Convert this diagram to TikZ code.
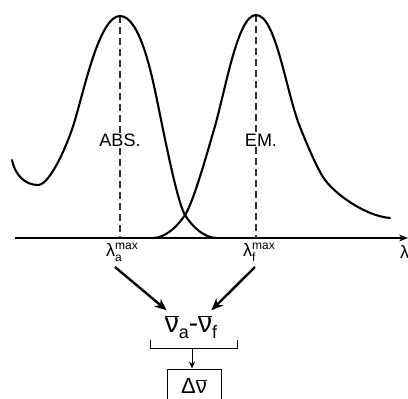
\documentclass[tikz,border=0pt]{standalone}
\usepackage{fontspec}
\setmainfont{Liberation Sans}
\usetikzlibrary{arrows.meta}
\newcommand{\fsz}[1]{\fontsize{#1}{#1}\selectfont}
\newcommand{\nubar}{$\overline{\hbox{ν}}$}
\newcommand{\lmax}[1]{λ\makebox[0pt][l]{\raisebox{7pt}{\fsz{12}max}}\raisebox{-5pt}{\fsz{12}#1}\hspace{12pt}}
\begin{document}
\begin{tikzpicture}[x=1pt,y=-1pt,
  curve/.style={line width=2.1pt, line join=round, line cap=round},
  guide/.style={dash pattern=on 7pt off 4pt, line width=1.1pt, black!80},
  lbl/.style={font=\fsz{18}, inner sep=1pt},
  bigarrow/.style={line width=2.4pt, -{Stealth[length=12pt,width=10pt]}},
  ]
\useasboundingbox (0,0) rectangle (408,399);
% axis
\coordinate (ax0) at (15,238);
\coordinate (ax1) at (408,238);
\draw[line width=1.5pt,-{Stealth[length=9pt,width=7pt]}] (ax0) -- (ax1);
% guides
\coordinate (pa) at (120,16);
\coordinate (pe) at (256,15);
\coordinate (pa0) at (120,238);
\coordinate (pe0) at (256,238);
\draw[guide] (pa) -- (pa0);
\draw[guide] (pe) -- (pe0);
% absorption curve
\draw[curve] (12,160) .. controls (15,175) and (25,185) .. (38,185)
  .. controls (50,185) and (68,144) .. (75,120)
  .. controls (85,86) and (100,16) .. (pa)
  .. controls (140,16) and (152,76) .. (157,100)
  .. controls (163,129) and (177,202) .. (185,215)
  .. controls (193,228) and (205,238) .. (217,238);
% emission curve
\draw[curve] (153,238) .. controls (165,238) and (177,227) .. (185,215)
  .. controls (193,203) and (206,157) .. (213,133)
  .. controls (225,94) and (237,15) .. (pe)
  .. controls (276,15) and (286,92) .. (300,127)
  .. controls (305,139.5) and (315,164) .. (323,177)
  .. controls (333,193) and (365,216) .. (390,218);
% labels
\node[lbl, fill=white] (abs) at (120,140) {ABS.};
\node[lbl, fill=white] (em) at (261,140) {EM.};
\node[lbl, anchor=west, inner sep=0pt] (lamA) at (106,252) {\lmax{a}};
\node[lbl, anchor=west, inner sep=0pt] (lamF) at (243,252) {\lmax{f}};
\node[lbl, anchor=west, inner sep=0pt] (lam) at (400,252) {λ};
% difference
\node[font=\fsz{28}, inner sep=0pt] (nu) at (191,327) {\nubar\raisebox{-6pt}{\fsz{18}a}-\nubar\raisebox{-6pt}{\fsz{18}f}};
\draw[bigarrow] (115,267) -- ([xshift=2pt,yshift=5pt]nu.north west);
\draw[bigarrow] (255,267) -- ([xshift=-6pt,yshift=5pt]nu.north east);
% bracket
\coordinate (b1) at (150,340);
\coordinate (b2) at (150,348);
\coordinate (b3) at (237,348);
\coordinate (b4) at (237,340);
\coordinate (bm) at (192,348);
\draw[line width=0.9pt] (b1) -- (b2) -- (b3) -- (b4);
\node[draw, line width=0.9pt, minimum width=54pt, minimum height=34pt, font=\fsz{22}] (box) at (194,386) {Δ\nubar};
\draw[line width=0.9pt, -{Stealth[length=7pt,width=6pt]}] (bm) -- (bm |- box.north);
\end{tikzpicture}
\end{document}
